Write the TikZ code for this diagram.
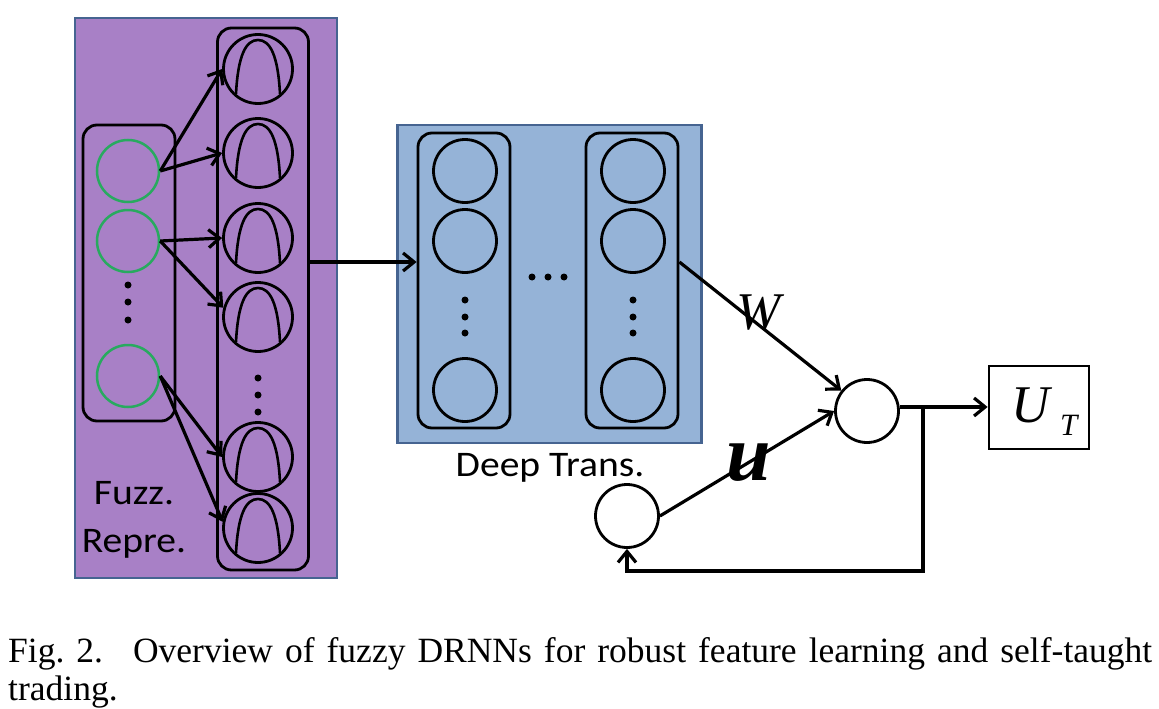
\documentclass[tikz,border=0pt]{standalone}
\usepackage{fontspec}
\setmainfont{Liberation Serif}
\newfontfamily\calib{Carlito}
\usetikzlibrary{arrows.meta}
\definecolor{purp}{RGB}{168,128,198}
\definecolor{bluef}{RGB}{149,179,215}
\definecolor{frameb}{RGB}{70,100,145}
\definecolor{greenc}{RGB}{40,170,95}
\begin{document}
\begin{tikzpicture}[x=1pt,y=-1pt,
 panel/.style={draw=frameb, line width=2.2pt, inner sep=0pt},
 grp/.style={draw=black, line width=2.8pt, rounded corners=14pt, inner sep=0pt},
 neuron/.style={circle, draw=black, line width=2.8pt, minimum size=63pt, inner sep=0pt},
 fneuron/.style={neuron, minimum size=69pt},
 gneuron/.style={circle, draw=greenc, line width=2.5pt, minimum size=62pt, inner sep=0pt},
 arr/.style={-{Straight Barb[length=11pt,width=18pt]}, line width=3.2pt},
 bell/.style={line width=2.6pt},
 lab/.style={font=\calib\fontsize{36}{42}\selectfont, inner sep=0pt, anchor=base},
 dotc/.style={fill=black},
 captxt/.style={anchor=base west, inner sep=0pt, font=\fontsize{35.5}{40}\selectfont}
]
\useasboundingbox (0,0) rectangle (1159,709);
\fill[white] (0,0) rectangle (1159,709);

% ---------- fuzzy representation panel ----------
\node[panel, fill=purp, minimum width=262pt, minimum height=560pt] (fuzzpanel) at (206,298) {};
\node[grp, minimum width=92pt, minimum height=296pt] (grpL) at (129,273) {};
\node[grp, minimum width=91pt, minimum height=542pt] (grpR) at (263,299) {};

\node[gneuron] (g1) at (128,171) {};
\node[gneuron] (g2) at (128,241) {};
\node[gneuron] (g3) at (128,376) {};
\foreach \yy in {285,302,320} \fill[dotc] (128,\yy) circle (3.5);

\node[fneuron] (f1) at (258,69) {};
\node[fneuron] (f2) at (258,153) {};
\node[fneuron] (f3) at (258,238) {};
\node[fneuron] (f4) at (258,317) {};
\node[fneuron] (f5) at (258,457) {};
\node[fneuron] (f6) at (258,528) {};
\foreach \yy in {378,395,412} \fill[dotc] (258,\yy) circle (3.5);
\foreach \n in {f1,f2,f3,f4,f5,f6}
  \draw[bell] ([shift={(-22,25)}]\n.center) .. controls ([shift={(-20,-14)}]\n.center) and ([shift={(-12,-29)}]\n.center) .. ([shift={(0,-29)}]\n.center)
     .. controls ([shift={(12,-29)}]\n.center) and ([shift={(20,-14)}]\n.center) .. ([shift={(22,25)}]\n.center);

\draw[arr] (g1.east) -- (f1.west);
\draw[arr] (g1.east) -- (f2.west);
\draw[arr] (g2.east) -- (f3.west);
\draw[arr] (g2.east) -- (f4.165);
\draw[arr] (g3.east) -- (f5.west);
\draw[arr] (g3.east) -- (f6.170);

\node[lab] (fuzzlab) at (134,504) {\scalebox{1.1}[1]{Fuzz.}};
\node[lab] (reprelab) at (134,552) {\scalebox{1.1}[1]{Repre.}};

% ---------- deep transformation panel ----------
\node[panel, fill=bluef, minimum width=304pt, minimum height=318pt] (deeppanel) at (549.5,284) {};
\node[grp, minimum width=92pt, minimum height=295pt] (inL) at (464,280.5) {};
\node[grp, minimum width=92pt, minimum height=295pt] (inR) at (632,280.5) {};
\node[neuron] (dl1) at (465,171) {};
\node[neuron] (dl2) at (465,241) {};
\node[neuron] (dl3) at (465,390) {};
\node[neuron] (dr1) at (633,171) {};
\node[neuron] (dr2) at (633,241) {};
\node[neuron] (dr3) at (633,390) {};
\foreach \yy in {300,317,333} {\fill[dotc] (465,\yy) circle (3.5); \fill[dotc] (633,\yy) circle (3.5);}
\foreach \xx in {532,548,564} \fill[dotc] (\xx,277) circle (3.5);
\node[lab] (deeplab) at (550,476) {\scalebox{1.1}[1]{Deep Trans.}};

\coordinate (yA) at (0,262);
\draw[arr] (grpR.east |- yA) -- (inL.west |- yA);

% ---------- trading part ----------
\node[neuron] (sum) at (867,411) {};
\node[neuron] (small) at (627,516) {};
\node[draw=black, line width=2.8pt, minimum width=100pt, minimum height=83pt, inner sep=0pt] (UT) at (1039,407.5) {};
\node[anchor=base west, inner sep=0pt, font=\fontsize{53}{60}\selectfont\mdseries\itshape] (ulab) at (1011,422) {U};
\node[anchor=base west, inner sep=0pt, font=\fontsize{31}{34}\selectfont\mdseries\itshape] (tlab) at (1060,435) {T};

\draw[arr] (inR.east |- yA) -- (sum);
\draw[arr] (small.east) -- (sum.west);
\draw[arr] (sum.7) -- (sum.7 -| UT.west);
\coordinate (fb) at (923,407);
\coordinate (yB) at (0,571);
\draw[arr] (fb) -- (fb |- yB) -| (small.south);

\node[anchor=base west, inner sep=0pt, font=\fontsize{53}{58}\selectfont\mdseries\itshape] (wlab) at (736,329) {W};
\node[anchor=base west, inner sep=0pt, font=\fontsize{80}{84}\selectfont\bfseries\itshape] (ulab2) at (726,480) {u};

% ---------- caption ----------
\node[captxt] (cap1) at (8,662) {\makebox[1144pt][s]{\hbox{Fig. 2.}\hspace{0.85em}Overview of fuzzy DRNNs for robust feature learning and self-taught}};
\node[captxt] (cap2) at (8,700) {trading.};
\end{tikzpicture}
\end{document}
